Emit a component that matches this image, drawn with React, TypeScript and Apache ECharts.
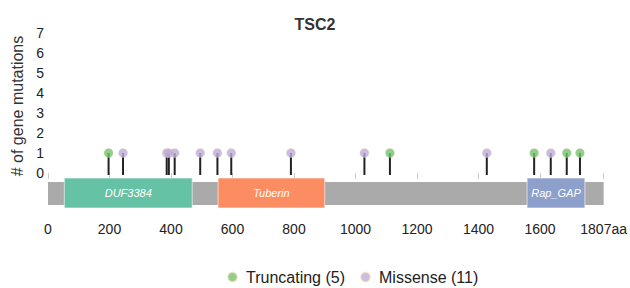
import React, { useEffect, useRef } from "react";
import * as echarts from "echarts";

const GENE = "TSC2";
const PROTEIN_LENGTH = 1807;
const xTicks = [0, 200, 400, 600, 800, 1000, 1200, 1400, 1600, 1807];
const domainNames = ["DUF3384", "Tuberin", "Rap_GAP"];
const domainStarts = [53, 553, 1558];
const domainEnds = [469, 900, 1746];
const domainColors = ["#66c2a5", "#fc8d62", "#8da0cb"];
const truncatingPos = [197, 1112, 1581, 1687, 1730];
const truncatingCount = [1, 1, 1, 1, 1];
const missensePos = [244, 386, 393, 412, 495, 551, 596, 790, 1029, 1427, 1635];
const missenseCount = [1, 1, 1, 1, 1, 1, 1, 1, 1, 1, 1];

const FONT = "'Liberation Sans', Arial, Helvetica, sans-serif";

export default function App() {
  const ref = useRef<HTMLDivElement>(null);
  useEffect(() => {
    const chart = echarts.init(ref.current!, null, { renderer: "svg" });
    const stems = [
      ...truncatingPos.map((p, i) => [p, truncatingCount[i]]),
      ...missensePos.map((p, i) => [p, missenseCount[i]]),
    ];
    const domains = domainNames.map((n, i) => [domainStarts[i], domainEnds[i], i]);
    chart.setOption({
      animation: false,
      textStyle: { fontFamily: FONT },
      title: {
        text: GENE,
        left: 310,
        textAlign: "center",
        top: 11,
        textStyle: { fontSize: 16, fontWeight: "bold", color: "#333", fontFamily: FONT },
      },
      grid: { left: 48, right: 24, top: 33, bottom: 75, containLabel: false },
      legend: {
        left: 222,
        top: 264,
        itemWidth: 9,
        itemHeight: 9,
        itemGap: 15,
        icon: "circle",
        textStyle: { fontSize: 16, color: "#222", fontFamily: FONT, padding: [0, 0, 0, 4] },
        data: ["Truncating (5)", "Missense (11)"],
      },
      graphic: [
        {
          type: "text",
          x: 17,
          y: 106,
          rotation: Math.PI / 2,
          style: {
            text: "# of gene mutations",
            font: `16px ${FONT}`,
            fill: "#333",
            align: "center",
            verticalAlign: "middle",
          },
        },
      ],
      xAxis: {
        type: "value",
        min: 0,
        max: PROTEIN_LENGTH,
        axisLine: { show: false },
        splitLine: { show: false },
        axisTick: { show: true, customValues: xTicks, length: 6, lineStyle: { color: "#ccc" } },
        axisLabel: {
          customValues: xTicks,
          showMinLabel: true,
          showMaxLabel: true,
          margin: 9,
          fontSize: 14,
          color: "#222",
          fontFamily: FONT,
          formatter: (v: number) => (v === PROTEIN_LENGTH ? `${v}aa` : String(v)),
        },
      },
      yAxis: {
        type: "value",
        min: -2,
        max: 7,
        interval: 1,
        axisLine: { show: false },
        axisTick: { show: false },
        splitLine: { show: false },
        axisLabel: {
          margin: 4,
          fontSize: 14,
          color: "#222",
          fontFamily: FONT,
          formatter: (v: number) => (v < 0 ? "" : String(v)),
        },
      },
      series: [
        {
          type: "custom",
          name: "protein",
          z: 1,
          clip: false,
          data: [[0, PROTEIN_LENGTH]],
          renderItem: (params: any, api: any) => {
            const a = api.coord([api.value(0), -0.45]);
            const b = api.coord([api.value(1), -1.6]);
            return {
              type: "rect",
              shape: { x: a[0], y: a[1], width: b[0] - a[0], height: b[1] - a[1] },
              style: { fill: "#aaaaaa" },
            };
          },
        },
        {
          type: "custom",
          name: "domains",
          z: 2,
          clip: false,
          data: domains,
          renderItem: (params: any, api: any) => {
            const i = api.value(2);
            const a = api.coord([api.value(0), -0.25]);
            const b = api.coord([api.value(1), -1.75]);
            return {
              type: "group",
              children: [
                {
                  type: "rect",
                  shape: { x: a[0], y: a[1], width: b[0] - a[0], height: b[1] - a[1] },
                  style: { fill: domainColors[i], stroke: "rgba(255,255,255,0.6)", lineWidth: 1 },
                },
                {
                  type: "text",
                  x: (a[0] + b[0]) / 2,
                  y: (a[1] + b[1]) / 2,
                  style: {
                    text: domainNames[i],
                    fill: "#fff",
                    font: `italic 11px ${FONT}`,
                    align: "center",
                    verticalAlign: "middle",
                  },
                },
              ],
            };
          },
        },
        {
          type: "custom",
          name: "stems",
          z: 3,
          clip: false,
          data: stems,
          renderItem: (params: any, api: any) => {
            const a = api.coord([api.value(0), -0.1]);
            const b = api.coord([api.value(0), api.value(1)]);
            return {
              type: "line",
              shape: { x1: a[0], y1: a[1], x2: b[0], y2: b[1] },
              style: { stroke: "#222", lineWidth: 2 },
            };
          },
        },
        {
          type: "scatter",
          name: "Truncating (5)",
          z: 4,
          symbol: "circle",
          symbolSize: 9,
          itemStyle: { color: "#72c46d", borderColor: "rgba(246,207,166,0.5)", borderWidth: 0.6 },
          data: truncatingPos.map((p, i) => [p, truncatingCount[i]]),
        },
        {
          type: "scatter",
          name: "Missense (11)",
          z: 4,
          symbol: "circle",
          symbolSize: 9,
          itemStyle: { color: "#bcaedb", borderColor: "rgba(246,207,166,0.6)", borderWidth: 0.6 },
          data: missensePos.map((p, i) => [p, missenseCount[i]]),
        },
      ],
    });
    return () => chart.dispose();
  }, []);
  return <div ref={ref} style={{ width: 630, height: 288, position: "absolute", left: 0, top: 0 }} />;
}
